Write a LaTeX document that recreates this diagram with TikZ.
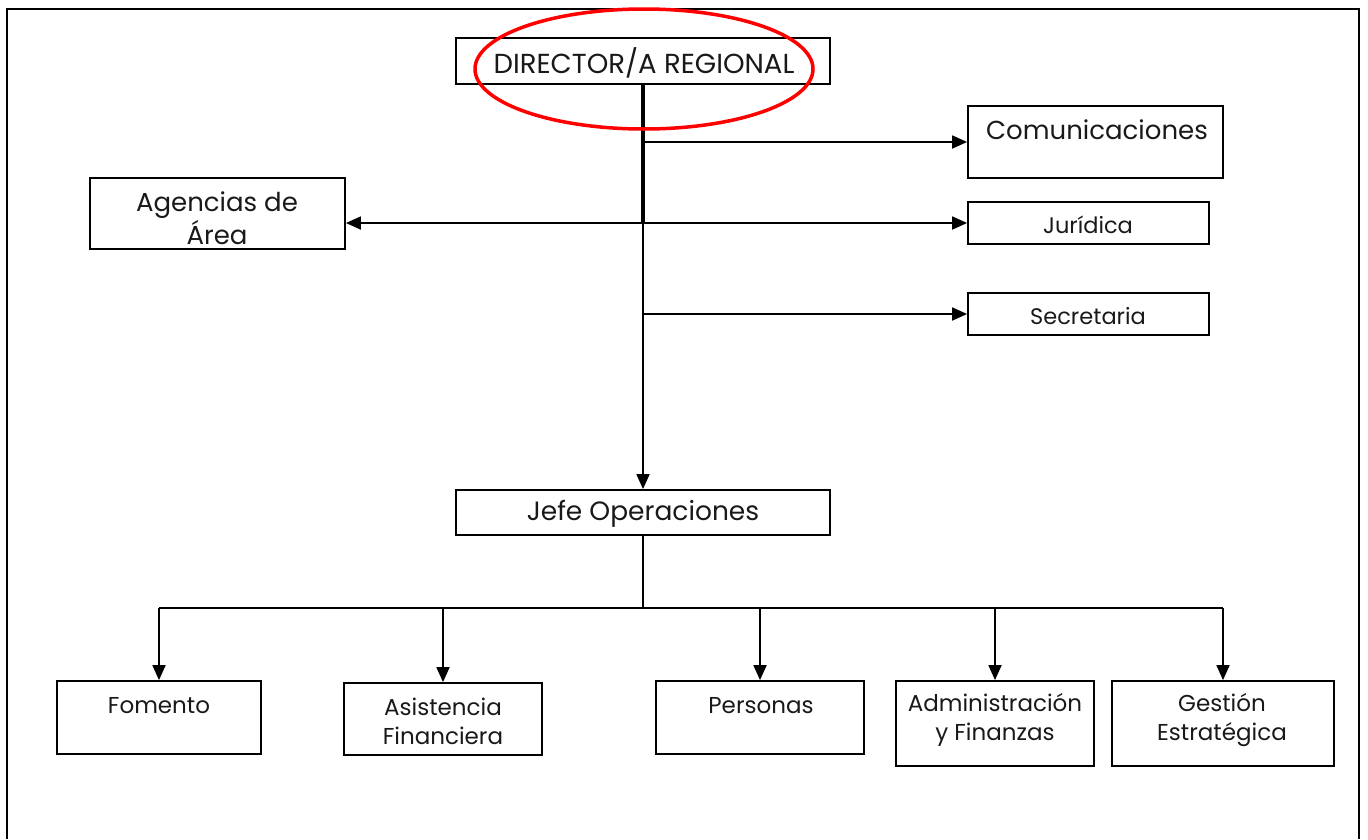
\documentclass[tikz,border=0pt]{standalone}
\usepackage{fontspec}
\setmainfont{Poppins}
\usetikzlibrary{arrows.meta}
\begin{document}
\begin{tikzpicture}[x=1pt,y=-1pt,
  box/.style={draw=black, line width=1.8pt, inner sep=0pt, rectangle},
  txt/.style={font=\fontsize{23}{29}\selectfont, align=center, inner sep=0pt, text=black!90},
  bigtxt/.style={font=\fontsize{26}{33}\selectfont, align=center, inner sep=0pt, text=black!90},
  smalltxt/.style={font=\fontsize{22.5}{28}\selectfont, align=center, inner sep=0pt, text=black!90},
  conn/.style={line width=1.8pt},
  arr/.style={line width=1.8pt, -{Triangle[length=15pt,width=13pt]}},
  darr/.style={line width=1.8pt, {Triangle[length=15pt,width=13pt]}-{Triangle[length=15pt,width=13pt]}}]
\useasboundingbox (0,0) rectangle (1368,839);
% frame
\draw[line width=2pt] (7,839) -- (7,9) -- (1359,9) -- (1359,839);
% boxes
\node[box, minimum width=374pt, minimum height=46pt] (dir) at (643,61) {};
\node[box, minimum width=255pt, minimum height=72pt] (com) at (1095.5,142) {};
\node[box, minimum width=255pt, minimum height=71pt] (ag) at (217.5,213.5) {};
\node[box, minimum width=241pt, minimum height=42pt] (jur) at (1088.5,223) {};
\node[box, minimum width=241pt, minimum height=42pt] (sec) at (1088.5,314) {};
\node[box, minimum width=374pt, minimum height=45pt] (jefe) at (643,512.5) {};
\node[box, minimum width=204pt, minimum height=73pt] (fom) at (159,717.5) {};
\node[box, minimum width=198pt, minimum height=72pt] (asi) at (443,719) {};
\node[box, minimum width=208pt, minimum height=73pt] (per) at (760,717.5) {};
\node[box, minimum width=198pt, minimum height=85pt] (adm) at (995,723.5) {};
\node[box, minimum width=222pt, minimum height=85pt] (ges) at (1223,723.5) {};
% texts
\node[txt, font=\fontsize{27.5}{33}\selectfont] (tdir) at (644,63) {DIRECTOR/A REGIONAL};
\node[bigtxt] (tcom) at (1097,130) {Comunicaciones};
\node[bigtxt] (tag) at (217,218) {Agencias de\\Área};
\node[smalltxt] (tjur) at (1088,225) {Jurídica};
\node[smalltxt] (tsec) at (1088,316) {Secretaria};
\node[txt, font=\fontsize{26.5}{33}\selectfont] (tjefe) at (643,514) {Jefe Operaciones};
\node[txt] (tfom) at (159,706) {Fomento};
\node[txt] (tasi) at (443,721) {Asistencia\\Financiera};
\node[txt] (tper) at (761,706) {Personas};
\node[txt] (tadm) at (995,720) {Administración\\y Finanzas};
\node[txt] (tges) at (1222,720) {Gestión\\Estratégica};
% connectors
\coordinate (tee) at (dir.south |- jur.west);
\draw[line width=4pt] (dir.south) -- (tee);
\draw[arr] (dir.south |- com.west) -- (com.west);
\draw[darr] (jur.west -| ag.east) -- (jur.west);
\draw[arr] (dir.south |- sec.west) -- (sec.west);
\draw[arr] (tee) -- (jefe.north);
\coordinate (bus) at (643,608);
\draw[conn] (jefe.south) -- (bus);
\draw[conn] (fom.north |- bus) -- (ges.north |- bus);
\draw[arr] (fom.north |- bus) -- (fom.north);
\draw[arr] (asi.north |- bus) -- (asi.north);
\draw[arr] (per.north |- bus) -- (per.north);
\draw[arr] (adm.north |- bus) -- (adm.north);
\draw[arr] (ges.north |- bus) -- (ges.north);
% highlight ellipse
\draw[red, line width=3.5pt] (644,69) ellipse [x radius=169, y radius=60];
\end{tikzpicture}
\end{document}
